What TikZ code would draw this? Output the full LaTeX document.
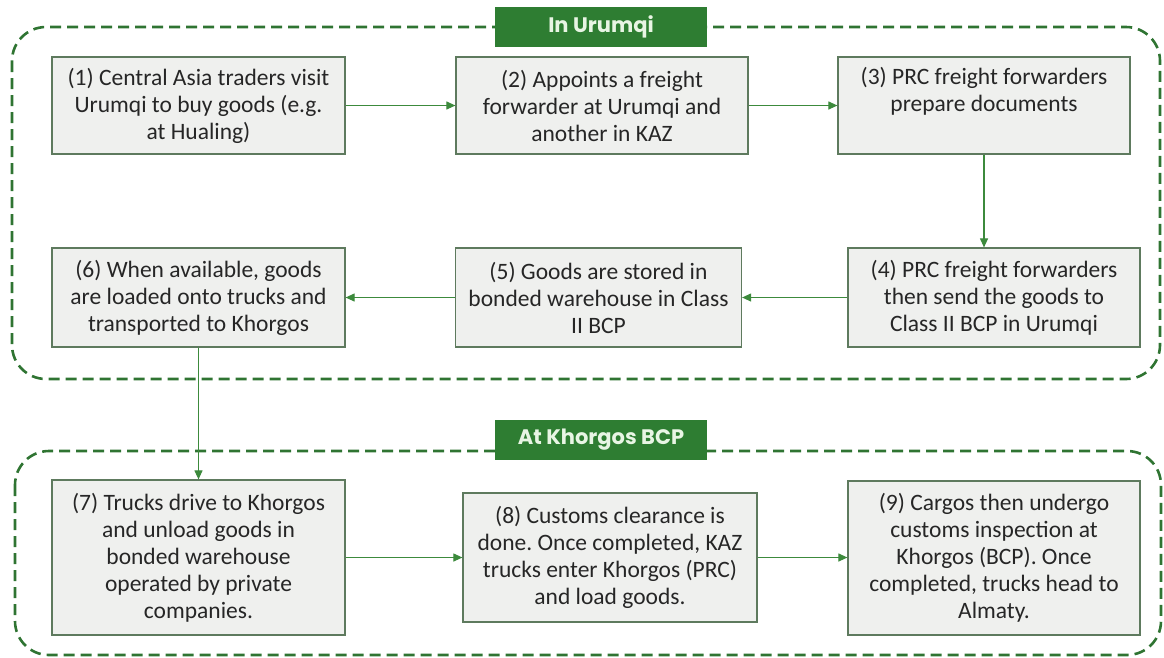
\documentclass[tikz,border=0pt]{standalone}
\usepackage{fontspec}
\setmainfont{Carlito}
\newfontfamily\titlefont{Poppins}
\usetikzlibrary{arrows.meta}
\frenchspacing
\definecolor{boxfill}{HTML}{EFF0EE}
\definecolor{boxline}{HTML}{5E7A5E}
\definecolor{arrowc}{HTML}{3C8A3C}
\definecolor{dashc}{HTML}{2F7432}
\definecolor{titlefill}{HTML}{2E7D32}
\definecolor{titletext}{HTML}{E8F5E4}
\definecolor{textc}{HTML}{262626}
\tikzset{
  stepbox/.style={draw=boxline, line width=1.2pt, fill=boxfill, align=center,
    text=textc, font=\frenchspacing\fontsize{23.5}{27}\selectfont, inner sep=2pt},
  flow/.style={draw=arrowc, line width=1.1pt, -{Triangle[length=9pt,width=8pt]}},
  region/.style={draw=dashc, line width=2.6pt, dash pattern=on 11pt off 6pt, rounded corners=34pt},
  titlebox/.style={fill=titlefill, text=titletext, font=\titlefont\bfseries\fontsize{21}{24}\selectfont, minimum width=212pt, minimum height=40pt, inner sep=0pt}
}
\begin{document}
\begin{tikzpicture}[x=1pt,y=-1pt]
\useasboundingbox (0,0) rectangle (1164,657);
% regions
\draw[region] (12,27) rectangle (1160,379);
\draw[region] (15,451) rectangle (1161,655);
\node[titlebox] (t1) at (601,26.5) {In Urumqi};
\node[titlebox] (t2) at (601,440) {At Khorgos BCP};
% steps
\node[stepbox, minimum width=293pt, minimum height=97pt] (s1) at (198.5,105.5) {(1) Central Asia traders visit\\Urumqi to buy goods (e.g.\\at Hualing)};
\node[stepbox, minimum width=292pt, minimum height=97pt] (s2) at (602,105.5) {(2) Appoints a freight\\forwarder at Urumqi and\\another in KAZ};
\node[stepbox, minimum width=292pt, minimum height=97pt, text depth=33pt] (s3) at (984,105.5) {(3) PRC freight forwarders\\prepare documents};
\node[stepbox, minimum width=292pt, minimum height=99pt] (s4) at (994,297.5) {(4) PRC freight forwarders\\then send the goods to\\Class II BCP in Urumqi};
\node[stepbox, minimum width=286pt, minimum height=99pt] (s5) at (598.5,297.5) {(5) Goods are stored in\\bonded warehouse in Class\\II BCP};
\node[stepbox, minimum width=293pt, minimum height=99pt] (s6) at (198.5,297.5) {(6) When available, goods\\are loaded onto trucks and\\transported to Khorgos};
\node[stepbox, minimum width=293pt, minimum height=155pt] (s7) at (198.5,557.5) {(7) Trucks drive to Khorgos\\and unload goods in\\bonded warehouse\\operated by private\\companies.};
\node[stepbox, minimum width=294pt, minimum height=129pt] (s8) at (610,557.5) {(8) Customs clearance is\\done. Once completed, KAZ\\trucks enter Khorgos (PRC)\\and load goods.};
\node[stepbox, minimum width=292pt, minimum height=154pt] (s9) at (994,558) {(9) Cargos then undergo\\customs inspection at\\Khorgos (BCP). Once\\completed, trucks head to\\Almaty.};
% connectors
\draw[flow] (s1) -- (s2);
\draw[flow] (s2) -- (s3);
\draw[flow] (s3.south) -- (s3.south |- s4.north);
\draw[flow] (s4) -- (s5);
\draw[flow] (s5) -- (s6);
\draw[flow] (s6.south) -- (s6.south |- s7.north);
\draw[flow] (s7.east |- s8.west) -- (s8.west);
\draw[flow] (s8) -- (s9.west |- s8.east);
\end{tikzpicture}
\end{document}
